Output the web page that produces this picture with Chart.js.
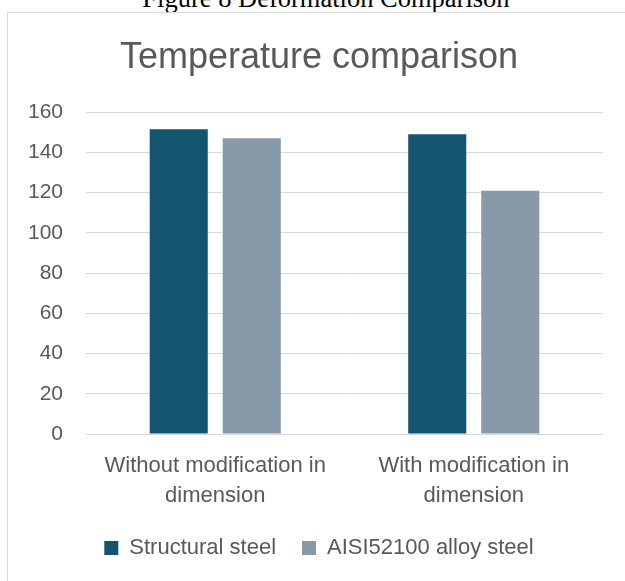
<!DOCTYPE html>
<html>
<head>
<meta charset="utf-8">
<script src="https://cdn.jsdelivr.net/npm/chart.js@4"></script>
<style>
  html, body { margin:0; padding:0; background:#ffffff; overflow:hidden; }
  #wrap { position:relative; width:625px; height:581px; overflow:hidden; }
  #caption { position:absolute; left:0; width:652px; top:-17px; text-align:center;
             font-family:"Liberation Serif","Times New Roman",serif; font-size:26.5px; line-height:30px; color:#000; white-space:nowrap; }
  #frame { position:absolute; left:7px; top:12px; width:700px; height:700px; border:1px solid #d9d9d9; }
  #c { position:absolute; left:0; top:0; }
</style>
</head>
<body>
<div id="wrap">
  <div id="caption">Figure 8 Deformation Comparison</div>
  <div id="frame"></div>
  <canvas id="c" width="625" height="581"></canvas>
</div>
<script>
const chartTitle = "Temperature comparison";
const categories = [["Without modification in", "dimension"], ["With modification in", "dimension"]];
const seriesNames = ["Structural steel", "AISI52100 alloy steel"];
const structuralSteel = [151.5, 149];
const alloySteel = [147, 121];
const yMin = 0, yMax = 160, yStep = 20;
const colors = ["#155470", "#8899AA"];

const textColor = "#595959";
const fontFamily = "'Liberation Sans', Arial, sans-serif";
const yTickSize = 21;

// widest y tick label, to right-align labels via mirrored ticks (avoids label clipping)
const mctx = document.createElement("canvas").getContext("2d");
mctx.font = "normal " + yTickSize + "px " + fontFamily;
let widest = 0;
for (let v = yMin; v <= yMax; v += yStep) widest = Math.max(widest, mctx.measureText(String(v)).width);

new Chart(document.getElementById("c"), {
  type: "bar",
  data: {
    labels: categories,
    datasets: [
      { label: seriesNames[0], data: structuralSteel, backgroundColor: colors[0], borderWidth: 0,
        categoryPercentage: 0.565, barPercentage: 0.795 },
      { label: seriesNames[1], data: alloySteel, backgroundColor: colors[1], borderWidth: 0,
        categoryPercentage: 0.565, barPercentage: 0.795 }
    ]
  },
  options: {
    responsive: false,
    animation: false,
    devicePixelRatio: 1,
    layout: { padding: { left: 35, right: 22, top: 0, bottom: 12 } },
    plugins: {
      title: {
        display: true, text: chartTitle, color: textColor,
        font: { family: fontFamily, size: 36, weight: "normal", lineHeight: 1.2 },
        padding: { top: 36, bottom: 33 }
      },
      legend: {
        display: true, position: "bottom",
        labels: {
          color: textColor, boxWidth: 14, boxHeight: 14, padding: 26,
          font: { family: fontFamily, size: 22 }
        }
      },
      tooltip: { enabled: false }
    },
    scales: {
      x: {
        grid: { display: false, drawTicks: false },
        border: { display: false },
        ticks: { color: textColor, padding: 16.5, maxRotation: 0, autoSkip: false,
                 font: { family: fontFamily, size: 22, lineHeight: 30 / 22 } },
        afterFit: s => { s.height = 77; }
      },
      y: {
        min: yMin, max: yMax,
        grid: { color: "#d9d9d9", lineWidth: 1, drawTicks: false },
        border: { display: false },
        ticks: { stepSize: yStep, color: textColor, mirror: true, crossAlign: "far",
                 padding: -(23 + widest),
                 font: { family: fontFamily, size: yTickSize } },
        afterFit: s => { s.width = 51; }
      }
    }
  }
});
</script>
</body>
</html>
